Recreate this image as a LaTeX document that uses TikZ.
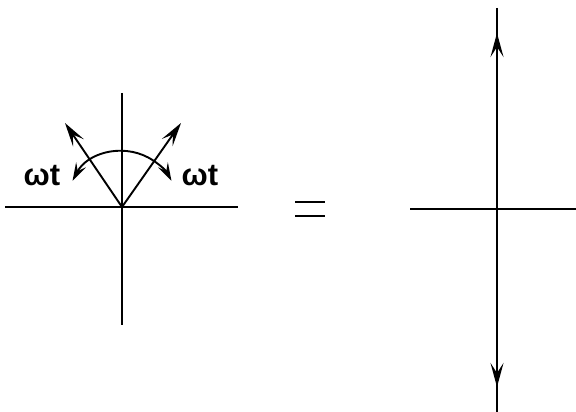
\documentclass[tikz,border=0pt]{standalone}
\usepackage{fontspec}
\setmainfont{Liberation Sans}
\usetikzlibrary{arrows.meta}
\begin{document}
\begin{tikzpicture}[x=1pt,y=1pt,
  ln/.style={line width=1.9pt},
  bigtip/.style={-{Stealth[length=24pt,width=13pt,inset=10pt]}},
  smalltip/.style={{Stealth[length=18pt,width=11pt,inset=7pt]}-{Stealth[length=18pt,width=11pt,inset=7pt]}},
  lbl/.style={font=\fontsize{31}{33}\selectfont\bfseries, inner sep=0pt}]
\useasboundingbox (0,0) rectangle (576,412);
% left figure
\coordinate (O) at (122,205);
\coordinate (hl) at (5,205);
\coordinate (hr) at (238,205);
\coordinate (vt) at (122,319);
\coordinate (vb) at (122,87);
\draw[line width=1.4pt] (hl) -- (hr);
\draw[line width=1.4pt] (vt) -- (vb);
\coordinate (tl) at (65,289);
\coordinate (tr) at (181,289);
\draw[ln,bigtip] (O) -- (tl);
\draw[ln,bigtip] (O) -- (tr);
\draw[ln,smalltip] ([shift={(152:56)}]O) arc[start angle=152,end angle=28,radius=56];
\node[lbl] (w1) at (42,236) {ωt};
\node[lbl] (w2) at (200,236) {ωt};
% equals sign
\coordinate (e1a) at (295,210); \coordinate (e1b) at (325,210);
\coordinate (e2a) at (295,196); \coordinate (e2b) at (325,196);
\draw[ln] (e1a) -- (e1b);
\draw[ln] (e2a) -- (e2b);
% right figure
\coordinate (rt) at (497,404);
\coordinate (rb) at (497,0);
\coordinate (rhl) at (410,203);
\coordinate (rhr) at (576,203);
\draw[ln] (rt) -- (rb);
\draw[line width=1.4pt] (rhl) -- (rhr);
\coordinate (ua) at (497,330);
\coordinate (ut) at (497,379);
\coordinate (da) at (497,80);
\coordinate (dt) at (497,25);
\draw[ln,bigtip] (ua) -- (ut);
\draw[ln,bigtip] (da) -- (dt);
\end{tikzpicture}
\end{document}
